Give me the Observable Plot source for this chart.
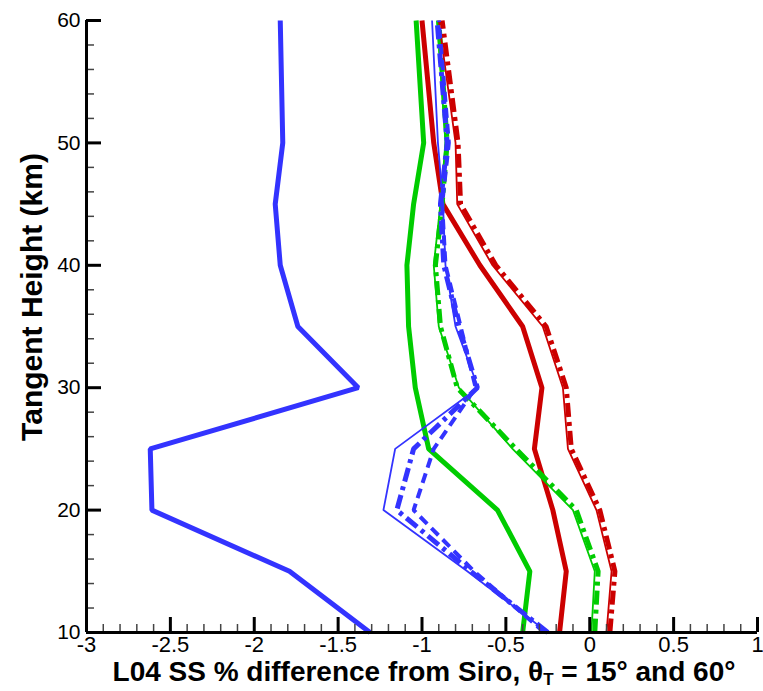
<!DOCTYPE html>
<html><head><meta charset="utf-8">
<script src="https://cdn.jsdelivr.net/npm/d3@7"></script>
<script src="https://cdn.jsdelivr.net/npm/@observablehq/plot@0.6"></script>
<style>body{margin:0;background:#fff} svg{display:block}</style>
</head><body><div id="chart"></div>
<script>
// Tangent heights (km)
const heights = [10, 15, 20, 25, 30, 35, 40, 45, 50, 60];

// Blue series
const blueThick = [-1.31, -1.79, -2.61, -2.62, -1.38, -1.74, -1.845, -1.875, -1.83, -1.845];
const blueThin  = [-0.25, -0.73, -1.23, -1.16, -0.665, -0.80, -0.86, -0.875, -0.905, -0.94];
const blueDashA = [-0.25, -0.71, -1.15, -1.05, -0.67, -0.78, -0.87, -0.89, -0.85, -0.91];
const blueDashB = [-0.27, -0.69, -1.05, -0.93, -0.68, -0.77, -0.86, -0.88, -0.84, -0.90];

// Green series
const greenThick = [-0.40, -0.357, -0.55, -0.96, -1.04, -1.08, -1.09, -1.05, -0.99, -1.035];
const greenThin  = [0.01, 0.03, -0.10, -0.46, -0.78, -0.90, -0.93, -0.89, -0.86, -0.91];
const greenDash  = [0.03, 0.05, -0.08, -0.44, -0.79, -0.89, -0.92, -0.88, -0.85, -0.90];

// Red series
const redThick = [-0.18, -0.14, -0.22, -0.33, -0.285, -0.40, -0.655, -0.875, -0.93, -1.0];
const redThin  = [0.10, 0.13, 0.04, -0.13, -0.16, -0.28, -0.58, -0.79, -0.80, -0.90];
const redDash  = [0.12, 0.15, 0.06, -0.11, -0.14, -0.26, -0.56, -0.77, -0.785, -0.88];

// Axis ticks
const xMajor = [-3, -2.5, -2, -1.5, -1, -0.5, 0, 0.5, 1];
const xMinor = d3.range(-30, 11).map(d => d / 10).filter(d => !xMajor.some(m => Math.abs(m - d) < 1e-9));
const yMajor = [10, 20, 30, 40, 50, 60];
const yMinor = d3.range(10, 61, 2).filter(d => d % 10 !== 0);

const BLUE = "#3333ff", GREEN = "#00cc00", RED = "#cc0000";
const DASH = "14,5,4,5";

const series = [
  {values: blueThick, color: BLUE, width: 5, dash: null},
  {values: greenThick, color: GREEN, width: 5, dash: null},
  {values: redThick, color: RED, width: 5, dash: null},
  {values: greenThin, color: GREEN, width: 1.8, dash: null},
  {values: greenDash, color: GREEN, width: 5, dash: DASH},
  {values: redThin, color: RED, width: 1.8, dash: null},
  {values: redDash, color: RED, width: 5, dash: DASH},
  {values: blueThin, color: BLUE, width: 1.8, dash: null},
  {values: blueDashA, color: BLUE, width: 5, dash: DASH},
  {values: blueDashB, color: BLUE, width: 4, dash: "10,6"}
];

const lineMarks = series.map(s => Plot.line(
  heights.map((h, i) => ({x: s.values[i], y: h})),
  {x: "x", y: "y", stroke: s.color, strokeWidth: s.width, strokeDasharray: s.dash, strokeLinejoin: "miter", strokeLinecap: "butt"}
));

const W = 763, H = 691;
const plot = Plot.plot({
  width: W, height: H,
  marginLeft: 86, marginRight: 6, marginTop: 20, marginBottom: 59,
  style: {fontFamily: "'Liberation Sans', Arial, sans-serif", background: "#fff", color: "#000"},
  x: {domain: [-3, 1], axis: null},
  y: {domain: [10, 60], axis: null},
  marks: [
    ...lineMarks,
    Plot.axisX(xMinor, {tickSize: -8, strokeWidth: 1.5, stroke: "#444", tickFormat: () => "", label: null}),
    Plot.axisY(yMinor, {tickSize: -8, strokeWidth: 1.5, stroke: "#444", tickFormat: () => "", label: null}),
    Plot.axisX(xMajor, {tickSize: -15, strokeWidth: 3, tickPadding: 19, fontSize: 22, tickFormat: d => String(d), label: null}),
    Plot.axisY(yMajor, {tickSize: -15, strokeWidth: 3, tickPadding: 21, fontSize: 21, tickFormat: d => String(d), label: null}),
    Plot.ruleX([-3], {strokeWidth: 3}),
    Plot.ruleY([10], {strokeWidth: 3})
  ]
});

const svg = d3.select(plot);
// X axis title with subscript and degree signs
const xt = svg.append("text")
  .attr("x", 424).attr("y", 681)
  .attr("text-anchor", "middle")
  .attr("font-family", "'Liberation Sans', Arial, sans-serif")
  .attr("font-weight", "bold").attr("font-size", 28).attr("fill", "#000");
xt.append("tspan").text("L04 SS % difference from Siro, θ");
xt.append("tspan").attr("font-size", 17).attr("dy", 4).text("T");
xt.append("tspan").attr("dy", -4).text(" = 15° and 60°");

// Y axis title
svg.append("text")
  .attr("transform", "translate(42,297) rotate(-90)")
  .attr("text-anchor", "middle")
  .attr("font-family", "'Liberation Sans', Arial, sans-serif")
  .attr("font-weight", "bold").attr("font-size", 30).attr("fill", "#000")
  .text("Tangent Height (km)");

document.getElementById("chart").appendChild(plot);
</script>
</body></html>
